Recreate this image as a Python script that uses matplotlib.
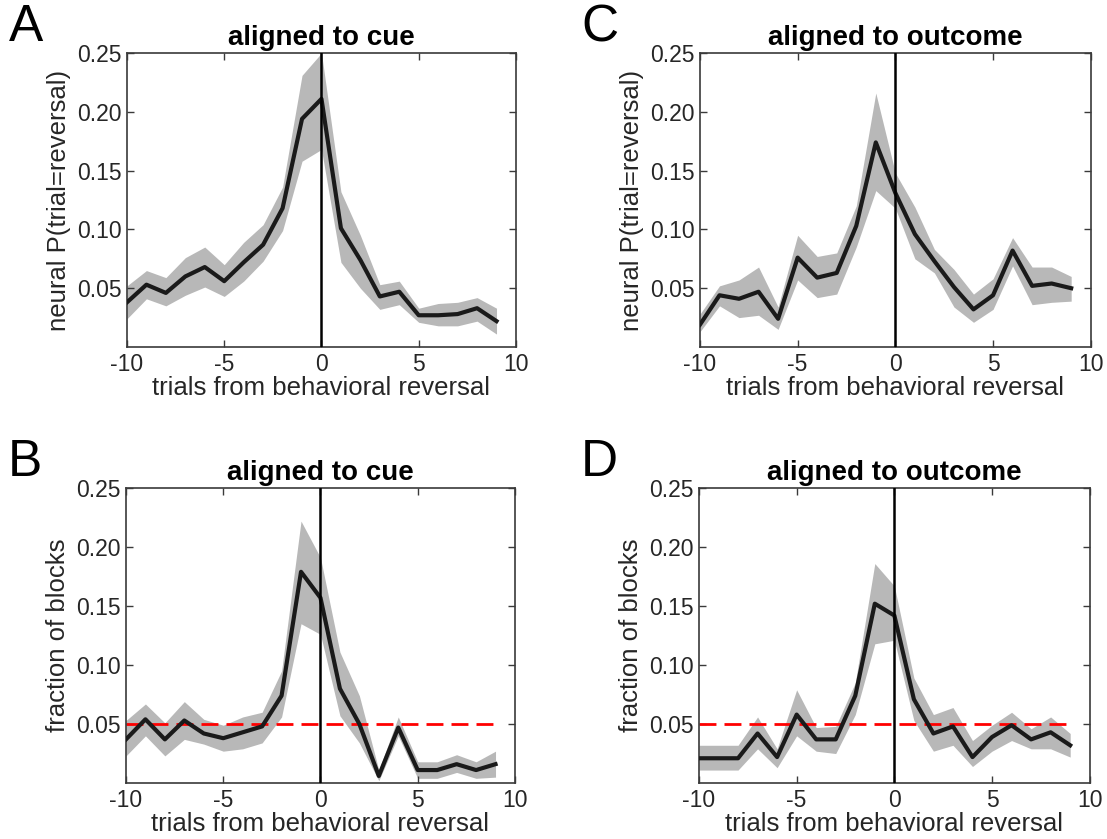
import numpy as np
import matplotlib
matplotlib.use("Agg")
import matplotlib.pyplot as plt

plt.rcParams['font.family'] = ['Liberation Sans', 'DejaVu Sans']
plt.rcParams['axes.unicode_minus'] = False

trials = np.arange(-10, 10)

# A: neural P(trial=reversal), aligned to cue
a_mean = [0.038, 0.053, 0.046, 0.060, 0.068, 0.056, 0.072, 0.087, 0.118, 0.194,
          0.211, 0.101, 0.074, 0.043, 0.047, 0.027, 0.027, 0.028, 0.033, 0.022]
a_upper = [0.052, 0.065, 0.059, 0.076, 0.085, 0.070, 0.089, 0.104, 0.136, 0.231,
           0.250, 0.132, 0.095, 0.053, 0.056, 0.033, 0.037, 0.038, 0.042, 0.033]
a_lower = [0.024, 0.041, 0.035, 0.044, 0.051, 0.043, 0.056, 0.073, 0.099, 0.158,
           0.168, 0.072, 0.050, 0.032, 0.036, 0.021, 0.018, 0.018, 0.022, 0.011]

# C: neural P(trial=reversal), aligned to outcome
c_mean = [0.019, 0.044, 0.041, 0.047, 0.024, 0.076, 0.059, 0.063, 0.103, 0.174,
          0.131, 0.096, 0.073, 0.051, 0.032, 0.044, 0.082, 0.052, 0.054, 0.050]
c_upper = [0.028, 0.052, 0.057, 0.068, 0.034, 0.095, 0.077, 0.080, 0.120, 0.216,
           0.148, 0.119, 0.083, 0.066, 0.045, 0.058, 0.093, 0.068, 0.068, 0.060]
c_lower = [0.013, 0.035, 0.025, 0.027, 0.015, 0.057, 0.042, 0.045, 0.085, 0.133,
           0.118, 0.075, 0.063, 0.034, 0.021, 0.032, 0.069, 0.036, 0.038, 0.039]

# B: fraction of blocks, aligned to cue
b_mean = [0.037, 0.054, 0.037, 0.053, 0.042, 0.038, 0.043, 0.048, 0.074, 0.179,
          0.157, 0.080, 0.050, 0.006, 0.047, 0.011, 0.011, 0.016, 0.011, 0.016]
b_upper = [0.053, 0.067, 0.051, 0.069, 0.054, 0.049, 0.056, 0.060, 0.095, 0.222,
           0.191, 0.111, 0.074, 0.011, 0.056, 0.018, 0.018, 0.024, 0.018, 0.027]
b_lower = [0.023, 0.040, 0.023, 0.037, 0.033, 0.027, 0.029, 0.034, 0.056, 0.135,
           0.126, 0.057, 0.034, 0.002, 0.040, 0.004, 0.004, 0.009, 0.004, 0.005]

# D: fraction of blocks, aligned to outcome
d_mean = [0.021, 0.021, 0.021, 0.042, 0.022, 0.058, 0.037, 0.037, 0.074, 0.152,
          0.142, 0.071, 0.042, 0.048, 0.022, 0.039, 0.049, 0.037, 0.043, 0.032]
d_upper = [0.032, 0.032, 0.032, 0.056, 0.029, 0.079, 0.047, 0.048, 0.085, 0.186,
           0.167, 0.089, 0.058, 0.064, 0.036, 0.049, 0.060, 0.046, 0.056, 0.042]
d_lower = [0.011, 0.011, 0.011, 0.029, 0.013, 0.040, 0.027, 0.025, 0.058, 0.118,
           0.121, 0.053, 0.027, 0.032, 0.014, 0.027, 0.036, 0.029, 0.029, 0.022]

chance = 0.05
yticks = [0.05, 0.10, 0.15, 0.20, 0.25]
ytick_labels = ["0.05", "0.10", "0.15", "0.20", "0.25"]
xticks = [-10, -5, 0, 5, 10]

txt = "#262626"
spine = "#3a3a3a"

fig = plt.figure(figsize=(11.07, 8.39), dpi=100)

panels = [
    ("A", "aligned to cue", "neural P(trial=reversal)", a_mean, a_upper, a_lower, False,
     [0.1147, 0.5864, 0.3514, 0.3504]),
    ("C", "aligned to outcome", "neural P(trial=reversal)", c_mean, c_upper, c_lower, False,
     [0.6323, 0.5864, 0.3530, 0.3504]),
    ("B", "aligned to cue", "fraction of blocks", b_mean, b_upper, b_lower, True,
     [0.1138, 0.0667, 0.3514, 0.3516]),
    ("D", "aligned to outcome", "fraction of blocks", d_mean, d_upper, d_lower, True,
     [0.6314, 0.0667, 0.3530, 0.3516]),
]

for letter, title, ylabel, mean, upper, lower, show_chance, pos in panels:
    ax = fig.add_axes(pos)
    ax.fill_between(trials, lower, upper, color="#b8b8b8", lw=0, zorder=1)
    ax.plot(trials, mean, color="#1a1a1a", lw=3, zorder=3)
    ax.axvline(0, color="black", lw=1.8, zorder=4)
    if show_chance:
        ax.plot([trials[0], trials[-1]], [chance, chance], color="red", lw=2,
                dashes=(6.1, 2.9), zorder=2)
    ax.set_xlim(-10, 10)
    ax.set_ylim(0.0, 0.25)
    ax.set_xticks(xticks)
    ax.set_yticks(yticks)
    ax.set_yticklabels(ytick_labels)
    ax.tick_params(direction="in", top=True, right=True, length=5, width=1,
                   colors=spine, labelcolor=txt, labelsize=16.5, pad=4)
    for s in ax.spines.values():
        s.set_color(spine)
        s.set_linewidth(1.2)
    ax.set_title(title, fontsize=20, fontweight="bold", color="black", pad=6)
    ax.set_xlabel("trials from behavioral reversal", fontsize=18.5, color=txt, labelpad=0)
    ax.set_ylabel(ylabel, fontsize=18.5, color=txt, labelpad=4)
    fig.text(pos[0] - 0.107, pos[1] + pos[3] + 0.030, letter, fontsize=37,
             color="black", va="center", ha="left")

fig.savefig("out.png", dpi=100)
